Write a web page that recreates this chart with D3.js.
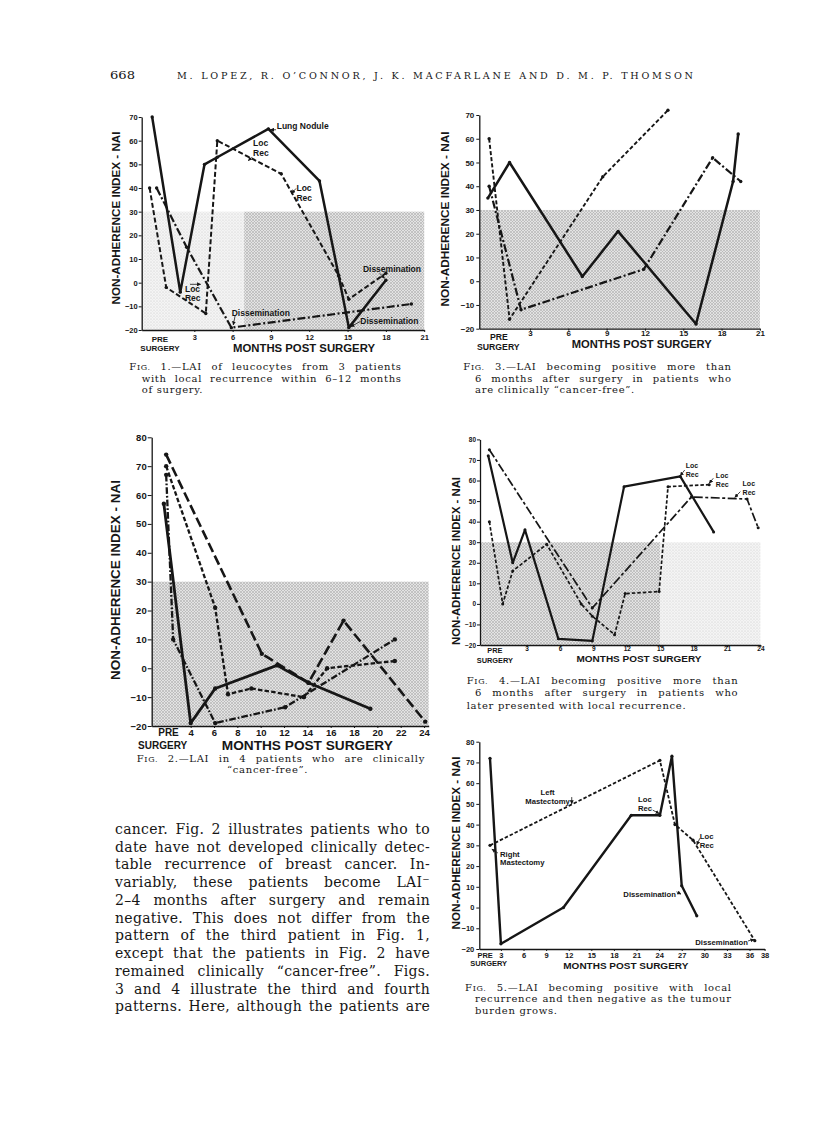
<!DOCTYPE html>
<html>
<head>
<meta charset="utf-8">
<script src="https://cdnjs.cloudflare.com/ajax/libs/d3/7.8.5/d3.min.js"></script>
<style>
body { margin: 0; background: #fff; }
</style>
</head>
<body>
<script>
// ---- values ----
const pageNumber = "668"
const authors = "M. LOPEZ, R. O’CONNOR, J. K. MACFARLANE AND D. M. P. THOMSON"
const xTitle = "MONTHS POST SURGERY"
const yTitle = "NON-ADHERENCE INDEX - NAI"
const preLabel = ["PRE", "SURGERY"]
const yTicks90 = [-20, -10, 0, 10, 20, 30, 40, 50, 60, 70]
const yTicks100 = [-20, -10, 0, 10, 20, 30, 40, 50, 60, 70, 80]
const months21 = [3, 6, 9, 12, 15, 18, 21]
const months24by2 = [4, 6, 8, 10, 12, 14, 16, 18, 20, 22, 24]
const months24 = [3, 6, 9, 12, 15, 18, 21, 24]
const months38 = [3, 6, 9, 12, 15, 18, 21, 24, 27, 30, 33, 36, 38]

// [month, NAI]
const fig1Solid = [[-0.3, 70], [1.9, -4], [3.8, 50], [4.8, 53], [8.8, 65], [12.8, 43], [14.3, 3], [15.1, -19], [18, 1]]
const fig1Dashed = [[-0.5, 40], [0.8, -2], [3.9, -13], [4.8, 60], [9.8, 46], [14.3, 3], [15.1, -7], [18, 4]]
const fig1DashDot = [[0.05, 40], [2.4, 15], [5.9, -19], [20, -9]]

const fig3Solid = [[-0.3, 35], [1.4, 50], [7.1, 2], [9.9, 21], [16, -18], [18.9, 42], [19.3, 62]]
const fig3Dashed = [[-0.2, 60], [1.4, -16], [8.7, 44], [13.8, 72]]
const fig3DashDot = [[-0.2, 40], [2.3, -12], [11.9, 5], [17.3, 52], [19.5, 42]]

const fig2LongDash = [[1.9, 74], [10.1, 5], [14.1, -5], [17.1, 16.5], [24.1, -18.5]]
const fig2Solid = [[1.7, 57], [4, -19], [6.1, -7], [11.4, 1], [14.1, -5], [19.4, -14]]
const fig2Dashed = [[1.9, 70], [6.1, 21], [7.2, -9], [9.2, -7], [13.7, -10], [15.7, 0], [21.5, 2.5]]
const fig2DashDot = [[1.9, 67], [2.5, 10], [6.1, -19], [12.1, -13.5], [21.5, 10]]

const fig4Solid = [[-0.45, 72], [1.75, 20], [2.85, 36], [5.85, -17], [8.9, -18], [11.75, 57], [16.8, 62], [19.8, 35]]
const fig4LongDash = [[-0.35, 75], [8.9, -2], [17.8, 52], [22.8, 51], [23.8, 37]]
const fig4Dashed = [[-0.35, 40], [0.85, 0], [1.75, 16], [4.8, 29], [7.9, 0], [8.9, -6], [10.9, -15], [11.85, 5], [14.9, 6], [15.7, 57], [19.4, 58]]

const fig5Solid = [[1.55, 72], [3, -17.5], [11.3, 0], [20.3, 44.5], [24.1, 44.5], [25.7, 73], [27, 10.5], [29, -4]]
const fig5Dashed = [[1.55, 30], [24.1, 71], [26.1, 40], [28.5, 32.5], [36.7, -16]]

// notes: text anchored at [month, NAI]; arrows [m1, v1, m2, v2]
const fig1Notes = [
  { lines: ["Lung Nodule"], at: [9.45, 64.9] },
  { lines: ["Loc", "Rec"], at: [7.6, 57.7] },
  { lines: ["Loc", "Rec"], at: [11.0, 38.7] },
  { lines: ["Loc", "Rec"], at: [2.27, -3.9] },
  { lines: ["Dissemination"], at: [5.93, -14.1] },
  { lines: ["Dissemination"], at: [16.2, 4.5] },
  { lines: ["Dissemination"], at: [16.0, -17.5] }
]
const fig1Arrows = [[9.4, 64.6, 8.95, 64.6], [7.49, 53.1, 7.23, 51.5], [10.96, 39.8, 10.63, 37.7], [2.66, -0.7, 3.5, -0.7],
  [6.19, -14.1, 6.05, -17.9], [17.5, 4, 17.9, 1.9], [16.0, -16.4, 15.25, -18.6]]
const fig4Notes = [
  { lines: ["Loc", "Rec"], at: [17.3, 66.3] },
  { lines: ["Loc", "Rec"], at: [20.0, 61] },
  { lines: ["Loc", "Rec"], at: [22.4, 57.3] }
]
const fig4Arrows = [[17.2, 65.1, 16.8, 62.3], [19.77, 61.1, 19.4, 58.7], [22.2, 54.6, 21.7, 51.8]]
const fig5Notes = [
  { lines: ["Left", "Mastectomy"], at: [9.19, 54.3], anchor: "middle" },
  { lines: ["Right", "Mastectomy"], at: [2.88, 24.6] },
  { lines: ["Loc", "Rec"], at: [21.2, 51] },
  { lines: ["Loc", "Rec"], at: [29.4, 33] },
  { lines: ["Dissemination"], at: [19.25, 5.1] },
  { lines: ["Dissemination"], at: [28.8, -18.1] }
]
const fig5Arrows = [[12.4, 53.3, 12.4, 50], [2.6, 26.3, 1.8, 28.2], [23.15, 47, 24.0, 45.3], [29.4, 33.4, 29.0, 30.2],
  [26.3, 7.6, 26.9, 6.5], [35.8, -16.1, 36.6, -15.4]]

const fig1Caption = ["FIG. 1.—LAI of leucocytes from 3 patients", "with local recurrence within 6–12 months", "of surgery."]
const fig2Caption = ["FIG. 2.—LAI in 4 patients who are clinically", "“cancer-free”."]
const fig3Caption = ["FIG. 3.—LAI becoming positive more than", "6 months after surgery in patients who", "are clinically “cancer-free”."]
const fig4Caption = ["FIG. 4.—LAI becoming positive more than", "6 months after surgery in patients who", "later presented with local recurrence."]
const fig5Caption = ["FIG. 5.—LAI becoming positive with local", "recurrence and then negative as the tumour", "burden grows."]

const bodyLines = [
  "cancer. Fig. 2 illustrates patients who to",
  "date have not developed clinically detec-",
  "table recurrence of breast cancer. In-",
  "variably, these patients become LAI⁻",
  "2–4 months after surgery and remain",
  "negative. This does not differ from the",
  "pattern of the third patient in Fig. 1,",
  "except that the patients in Fig. 2 have",
  "remained clinically “cancer-free”. Figs.",
  "3 and 4 illustrate the third and fourth",
  "patterns. Here, although the patients are"
]

// ---- drawing ----
const W = 816, H = 1136
const INK = "#161616"
const SANS = "'Liberation Sans', Arial, sans-serif"
const SERIF = "'DejaVu Serif', serif"

const svg = d3.select("body").append("svg").attr("width", W).attr("height", H).style("display", "block")
svg.append("rect").attr("width", W).attr("height", H).attr("fill", "#fff")

const defs = svg.append("defs")
function stipple (id, bg, dot, r) {
  const p = defs.append("pattern").attr("id", id).attr("width", 3).attr("height", 3).attr("patternUnits", "userSpaceOnUse")
  p.append("rect").attr("width", 3).attr("height", 3).attr("fill", bg)
  p.append("circle").attr("cx", 1).attr("cy", 1).attr("r", r).attr("fill", dot)
  p.append("circle").attr("cx", 2.5).attr("cy", 2.5).attr("r", r * 0.6).attr("fill", dot)
}
stipple("stipDark", "#e3e3e3", "#8a8a8a", 0.7)
stipple("stipLight", "#f4f4f4", "#c4c4c4", 0.55)

defs.append("marker").attr("id", "arr").attr("viewBox", "0 0 6 6").attr("refX", 5.5).attr("refY", 3)
    .attr("markerWidth", 4).attr("markerHeight", 4).attr("markerUnits", "userSpaceOnUse").attr("orient", "auto")
  .append("path").attr("d", "M0,0L6,3L0,6z").attr("fill", INK)

function justify (t, x0, x1) {
  const n = t.node()
  const w = n.getComputedTextLength()
  const spaces = (n.textContent.match(/ /g) || []).length
  if (w < x1 - x0 && spaces) t.attr("word-spacing", (x1 - x0 - w) / spaces)
  else t.attr("textLength", x1 - x0).attr("lengthAdjust", "spacingAndGlyphs")
}

function panel (p) {
  const g = svg.append("g")
  const x = d3.scaleLinear(p.xDomain, p.xRange)
  const y = d3.scaleLinear([p.yTicks[0], p.yTicks[p.yTicks.length - 1]], p.yRange)
  const axisY = y(p.yTicks[0]), axisX = x(p.xDomain[0])

  for (const [a, b, v0, v1, pat] of p.shade) {
    g.append("rect").attr("x", x(a)).attr("y", y(v1)).attr("width", x(b) - x(a)).attr("height", y(v0) - y(v1))
      .attr("fill", `url(#${pat})`)
  }

  const gy = g.append("g").attr("transform", `translate(${axisX},0)`)
    .call(d3.axisLeft(y).tickValues(p.yTicks).tickSize(p.yTick).tickSizeOuter(0).tickPadding(p.yPad))
  const gx = g.append("g").attr("transform", `translate(0,${axisY})`)
    .call(d3.axisBottom(x).tickValues(p.xTicks).tickSize(2).tickSizeOuter(0).tickFormat(d3.format("d")))
  for (const a of [gx, gy]) {
    a.attr("font-family", SANS).attr("font-weight", "bold").attr("font-size", p.tickFs)
    a.select(".domain").attr("stroke", INK).attr("stroke-width", 1.3)
    a.selectAll(".tick line").attr("stroke", INK).attr("stroke-width", 1)
    a.selectAll(".tick text").attr("fill", INK)
  }
  gx.selectAll(".tick text").attr("dy", null).attr("y", p.xLabCy - axisY).attr("dominant-baseline", "central")

  const lab = (tx, ty, s, fs) => g.append("text").attr("x", tx).attr("y", ty).attr("text-anchor", "middle")
    .attr("dominant-baseline", "central").attr("font-family", SANS).attr("font-weight", "bold")
    .attr("font-size", fs).attr("fill", INK).text(s)
  lab(x(p.preAt), p.preCy, preLabel[0], p.preFs)
  lab(x(p.surgAt), p.surgCy, preLabel[1], p.preFs)
  lab(p.xT[0], p.xT[1], xTitle, p.xT[3]).attr("textLength", p.xT[2]).attr("lengthAdjust", "spacingAndGlyphs")
  lab(0, 0, yTitle, p.yT[3]).attr("textLength", p.yT[2]).attr("lengthAdjust", "spacingAndGlyphs")
    .attr("transform", `translate(${p.yT[0]},${p.yT[1]}) rotate(-90)`)

  const line = d3.line().x(d => x(d[0])).y(d => y(d[1]))
  for (const s of p.series) {
    g.append("path").datum(s.data).attr("d", line).attr("fill", "none").attr("stroke", INK)
      .attr("stroke-width", s.w).attr("stroke-dasharray", s.dash).attr("stroke-linejoin", "round")
    g.append("g").selectAll("circle").data(s.data).join("circle")
      .attr("cx", d => x(d[0])).attr("cy", d => y(d[1])).attr("r", p.dotR).attr("fill", INK)
  }

  for (const n of p.notes) {
    const t = g.append("text").attr("x", x(n.at[0])).attr("y", y(n.at[1])).attr("text-anchor", n.anchor || "start")
      .attr("font-family", SANS).attr("font-weight", "bold").attr("font-size", p.noteFs).attr("fill", INK)
    n.lines.forEach((l, i) => t.append("tspan").attr("x", x(n.at[0])).attr("dy", i ? p.noteGap : 0).text(l))
  }
  for (const [m1, v1, m2, v2] of p.arrows) {
    g.append("line").attr("x1", x(m1)).attr("y1", y(v1)).attr("x2", x(m2)).attr("y2", y(v2))
      .attr("stroke", INK).attr("stroke-width", 0.8).attr("marker-end", "url(#arr)")
  }

  p.caption.forEach((s, i) => {
    const t = g.append("text").attr("x", p.capX[i]).attr("y", p.capY[i]).attr("font-family", SERIF)
      .attr("font-size", 10).attr("letter-spacing", 0.7).attr("fill", INK)
    if (s.startsWith("FIG.")) {
      t.append("tspan").text("F")
      t.append("tspan").attr("font-size", 8).text("IG.")
      t.append("tspan").text(s.slice(4))
    } else t.text(s)
    if (i < p.caption.length - 1) justify(t, p.capX[i], p.capRight)
  })
}

panel({
  xDomain: [-1.12, 21], xRange: [141.7, 424.2], yRange: [330, 117], yTicks: yTicks90, xTicks: months21,
  yTick: 3, yPad: 1, tickFs: 7.5, xLabCy: 337.3, preAt: 0.31, surgAt: 0.31, preCy: 339, surgCy: 348.3, preFs: 8,
  xT: [304, 348.3, 142, 11], yT: [115, 218, 173, 11.7],
  shade: [[-1.12, 6.9, -20, 30, "stipLight"], [6.9, 21, -20, 30, "stipDark"]],
  series: [{ data: fig1Solid, w: 2.5 }, { data: fig1Dashed, w: 2, dash: "5,2.5" }, { data: fig1DashDot, w: 2.2, dash: "8,2.5,2,2.5" }],
  dotR: 1.7, notes: fig1Notes, arrows: fig1Arrows, noteFs: 8.5, noteGap: 9.5,
  caption: fig1Caption, capX: [129.3, 141.7, 141.7], capY: [370, 381.7, 393.4], capRight: 401.7
})

panel({
  xDomain: [-0.97, 21], xRange: [479.3, 759.9], yRange: [328.7, 115], yTicks: yTicks90, xTicks: months21,
  yTick: 3, yPad: 2, tickFs: 8, xLabCy: 333.3, preAt: 0.57, surgAt: 0.52, preCy: 337.3, surgCy: 346.7, preFs: 8.7,
  xT: [641.7, 344.3, 140, 11], yT: [445, 219, 175, 11.8],
  shade: [[-0.97, 21, -20, 30, "stipDark"]],
  series: [{ data: fig3Solid, w: 2.5 }, { data: fig3Dashed, w: 1.9, dash: "4,2.2" }, { data: fig3DashDot, w: 2.2, dash: "8,2.5,2,2.5" }],
  dotR: 1.7, notes: [], arrows: [], noteFs: 8, noteGap: 9,
  caption: fig3Caption, capX: [463.3, 475, 475], capY: [370, 381.7, 393.4], capRight: 731.7
})

panel({
  xDomain: [0.66, 24.4], xRange: [151.7, 428.7], yRange: [726, 437.3], yTicks: yTicks100, xTicks: months24by2,
  yTick: 4, yPad: 1, tickFs: 9.5, xLabCy: 732.3, preAt: 2.1, surgAt: 1.6, preCy: 732.8, surgCy: 745, preFs: 10,
  xT: [307.3, 745, 171, 13], yT: [115, 580, 200, 13.5],
  shade: [[0.66, 24.4, -20, 30, "stipDark"]],
  series: [{ data: fig2LongDash, w: 2.6, dash: "10,4" }, { data: fig2Solid, w: 2.8 }, { data: fig2Dashed, w: 2.3, dash: "4.5,2.2" },
    { data: fig2DashDot, w: 2.3, dash: "6.7,2,1.7,2" }],
  dotR: 2.2, notes: [], arrows: [], noteFs: 8, noteGap: 9,
  caption: fig2Caption, capX: [136.7, 227], capY: [761.5, 773.2], capRight: 425
})

panel({
  xDomain: [-1.19, 24], xRange: [480, 760.4], yRange: [645, 439.4], yTicks: yTicks100, xTicks: months24,
  yTick: 3, yPad: 1, tickFs: 6.5, xLabCy: 648.8, preAt: 0.15, surgAt: 0.15, preCy: 650.5, surgCy: 660, preFs: 7.4,
  xT: [639, 658.3, 125, 9.8], yT: [456, 561, 168, 11.3],
  shade: [[-1.19, 15, -20, 30, "stipDark"], [15, 24, -20, 30, "stipLight"]],
  series: [{ data: fig4Solid, w: 2.2 }, { data: fig4LongDash, w: 1.7, dash: "9,2.5,3,2.5" }, { data: fig4Dashed, w: 1.7, dash: "3.5,2" }],
  dotR: 1.5, notes: fig4Notes, arrows: fig4Arrows, noteFs: 7, noteGap: 9,
  caption: fig4Caption, capX: [466.7, 475, 466.7], capY: [684, 695.7, 708.5], capRight: 738.3
})

panel({
  xDomain: [0.13, 38], xRange: [479.3, 764.6], yRange: [949, 741.7], yTicks: yTicks100, xTicks: months38,
  yTick: 3, yPad: 2, tickFs: 7.5, xLabCy: 955, preAt: 0.9, surgAt: 1.38, preCy: 955, surgCy: 963.3, preFs: 7.5,
  xT: [625.8, 965, 125, 9.8], yT: [455, 843, 173, 11.7],
  shade: [],
  series: [{ data: fig5Solid, w: 2.4 }, { data: fig5Dashed, w: 1.8, dash: "3.5,2" }],
  dotR: 1.6, notes: fig5Notes, arrows: fig5Arrows, noteFs: 7.7, noteGap: 8.7,
  caption: fig5Caption, capX: [465, 475, 475], capY: [990.5, 1002.2, 1013.9], capRight: 731.7
})

// running head
svg.append("text").attr("x", 110).attr("y", 79).attr("font-family", SERIF).attr("font-size", 11)
  .attr("textLength", 25).attr("lengthAdjust", "spacingAndGlyphs").attr("fill", INK).text(pageNumber)
svg.append("text").attr("x", 177).attr("y", 79).attr("font-family", SERIF).attr("font-size", 9.6)
  .attr("textLength", 516).attr("lengthAdjust", "spacing").attr("fill", INK).text(authors)

// body text column, justified
bodyLines.forEach((s, i) => {
  const t = svg.append("text").attr("x", 115).attr("y", 834 + i * 17.73).attr("font-family", SERIF)
    .attr("font-size", 14).attr("letter-spacing", 0.3).attr("fill", INK).text(s)
  justify(t, 115, 430)
})
</script>
</body>
</html>
